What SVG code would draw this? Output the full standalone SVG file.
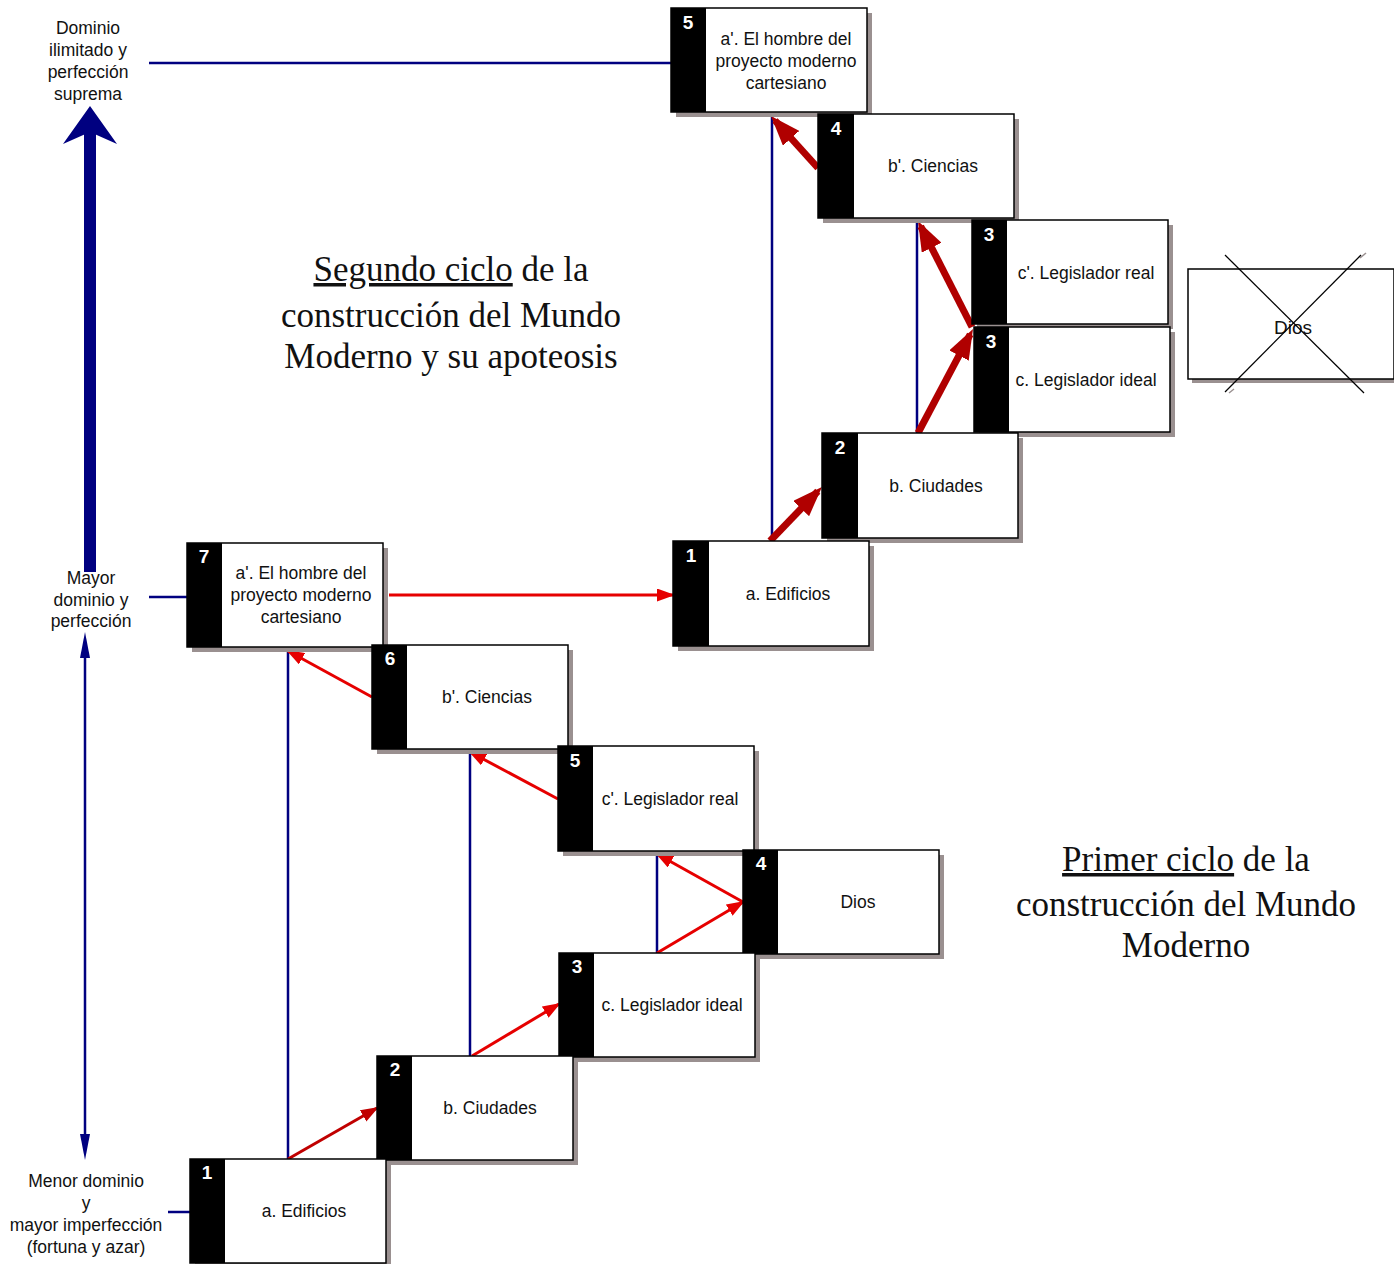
<svg xmlns="http://www.w3.org/2000/svg" width="1394" height="1264" viewBox="0 0 1394 1264">
<style>
.sh{fill:#9a9090}
.bx{fill:#fff;stroke:#000;stroke-width:1.5}
.st{fill:#000}
.num{font-family:"Liberation Sans",Arial,sans-serif;font-weight:bold;font-size:19px;fill:#fff;text-anchor:middle}
.lbl{font-family:"Liberation Sans",Arial,sans-serif;font-size:17.5px;fill:#111;text-anchor:middle}
.side{font-family:"Liberation Sans",Arial,sans-serif;font-size:17.5px;fill:#111;text-anchor:middle}
.ttl{font-family:"Liberation Serif","Times New Roman",serif;font-size:35px;fill:#111;text-anchor:middle}
.blue{stroke:#000080;stroke-width:2.5;fill:none}
.dred{stroke:#b00000;stroke-width:7;fill:none;marker-end:url(#hd)}
.lred{stroke:#e60000;stroke-width:3;fill:none;marker-end:url(#hl)}
</style>
<defs>
<marker id="hd" markerUnits="userSpaceOnUse" viewBox="0 0 30 22" markerWidth="30" markerHeight="22" refX="24" refY="11" orient="auto">
<path d="M0,0 L30,11 L0,22 z" fill="#b00000"/>
</marker>
<marker id="hl" markerUnits="userSpaceOnUse" viewBox="0 0 18 13" markerWidth="18" markerHeight="13" refX="16" refY="6.5" orient="auto">
<path d="M0,0 L18,6.5 L0,13 z" fill="#e60000"/>
</marker>
<marker id="hm" markerUnits="userSpaceOnUse" viewBox="0 0 18 13" markerWidth="18" markerHeight="13" refX="16" refY="6.5" orient="auto">
<path d="M0,0 L18,6.5 L0,13 z" fill="#c00000"/>
</marker>
</defs>

<!-- connectors -->
<g id="connectors">
<line class="blue" x1="149" y1="63" x2="671" y2="63"/>
<line class="blue" x1="772" y1="112" x2="772" y2="541"/>
<line class="blue" x1="917" y1="218" x2="917" y2="433"/>
<line class="blue" x1="149" y1="597" x2="187" y2="597"/>
<line class="blue" x1="288" y1="647" x2="288" y2="1159"/>
<line class="blue" x1="470" y1="749" x2="470" y2="1056"/>
<line class="blue" x1="657" y1="851" x2="657" y2="953"/>
<line class="blue" x1="168" y1="1212" x2="190" y2="1212"/>
<!-- big up arrow -->
<rect x="84" y="132" width="12" height="440" fill="#000080"/>
<polygon points="90,106 117,144 90,132 63,144" fill="#000080"/>
<!-- thin double arrow -->
<line x1="85" y1="650" x2="85" y2="1142" stroke="#000080" stroke-width="2.5"/>
<polygon points="85,632 80,658 90,658" fill="#000080"/>
<polygon points="85,1160 80,1134 90,1134" fill="#000080"/>
<!-- upper red block arrows -->
<line class="dred" x1="770" y1="541" x2="817.8" y2="491.3"/>
<line class="dred" x1="918" y1="433" x2="970.2" y2="334.3"/>
<line class="dred" x1="972" y1="327" x2="920.7" y2="226.3"/>
<line class="dred" x1="818" y1="168" x2="775" y2="120.5"/>
<!-- lower red arrows -->
<line class="lred" x1="389" y1="595" x2="673" y2="595"/>
<line class="lred" x1="372" y1="697" x2="288" y2="651"/>
<line class="lred" x1="558" y1="799" x2="470" y2="752"/>
<line class="lred" x1="743" y1="902" x2="657" y2="854"/>
<line class="lred" x1="657" y1="953" x2="743" y2="902"/>
<line class="lred" x1="472" y1="1056" x2="559" y2="1004"/>
<line stroke="#c00000" stroke-width="3" marker-end="url(#hm)" x1="288" y1="1159" x2="377" y2="1108"/>
</g>

<!-- upper cycle nodes -->
<g id="u5">
<rect class="sh" x="676" y="13" width="196" height="104"/>
<rect class="bx" x="671" y="8" width="196" height="104"/>
<rect class="st" x="671" y="8" width="35" height="104"/>
<text class="num" x="688" y="29">5</text>
<text class="lbl" x="786" y="45">a'. El hombre del</text>
<text class="lbl" x="786" y="67">proyecto moderno</text>
<text class="lbl" x="786" y="89">cartesiano</text>
</g>
<g id="u4">
<rect class="sh" x="823" y="119" width="196" height="104"/>
<rect class="bx" x="818" y="114" width="196" height="104"/>
<rect class="st" x="818" y="114" width="36" height="104"/>
<text class="num" x="836" y="135">4</text>
<text class="lbl" x="933" y="172">b'. Ciencias</text>
</g>
<g id="u3r">
<rect class="sh" x="977" y="225" width="196" height="104"/>
<rect class="bx" x="972" y="220" width="196" height="104"/>
<rect class="st" x="972" y="220" width="35" height="104"/>
<text class="num" x="989" y="241">3</text>
<text class="lbl" x="1086" y="279">c'. Legislador real</text>
</g>
<g id="u3i">
<rect class="sh" x="979" y="332" width="196" height="105"/>
<rect class="bx" x="974" y="327" width="196" height="105"/>
<rect class="st" x="974" y="327" width="35" height="105"/>
<text class="num" x="991" y="348">3</text>
<text class="lbl" x="1086" y="386">c. Legislador ideal</text>
</g>
<g id="u2">
<rect class="sh" x="827" y="438" width="196" height="105"/>
<rect class="bx" x="822" y="433" width="196" height="105"/>
<rect class="st" x="822" y="433" width="36" height="105"/>
<text class="num" x="840" y="454">2</text>
<text class="lbl" x="936" y="492">b. Ciudades</text>
</g>
<g id="u1">
<rect class="sh" x="678" y="546" width="196" height="105"/>
<rect class="bx" x="673" y="541" width="196" height="105"/>
<rect class="st" x="673" y="541" width="36" height="105"/>
<text class="num" x="691" y="562">1</text>
<text class="lbl" x="788" y="600">a. Edificios</text>
</g>
<g id="dios-x">
<rect class="sh" x="1192" y="273" width="206" height="110"/>
<rect class="bx" x="1188" y="269" width="206" height="110"/>
<line x1="1229" y1="393" x2="1234" y2="389" stroke="#9a9090" stroke-width="1.5"/>
<line x1="1360" y1="258" x2="1366" y2="253" stroke="#9a9090" stroke-width="1.5"/>
<text class="lbl" x="1293" y="334" style="font-size:19px">Dios</text>
<line x1="1225" y1="255" x2="1364" y2="393" stroke="#000" stroke-width="1.2"/>
<line x1="1361" y1="255" x2="1225" y2="392" stroke="#000" stroke-width="1.2"/>
</g>

<!-- lower cycle nodes -->
<g id="l7">
<rect class="sh" x="192" y="548" width="196" height="104"/>
<rect class="bx" x="187" y="543" width="196" height="104"/>
<rect class="st" x="187" y="543" width="35" height="104"/>
<text class="num" x="204" y="563">7</text>
<text class="lbl" x="301" y="579">a'. El hombre del</text>
<text class="lbl" x="301" y="601">proyecto moderno</text>
<text class="lbl" x="301" y="623">cartesiano</text>
</g>
<g id="l6">
<rect class="sh" x="377" y="650" width="196" height="104"/>
<rect class="bx" x="372" y="645" width="196" height="104"/>
<rect class="st" x="372" y="645" width="35" height="104"/>
<text class="num" x="390" y="665">6</text>
<text class="lbl" x="487" y="703">b'. Ciencias</text>
</g>
<g id="l5">
<rect class="sh" x="563" y="751" width="196" height="105"/>
<rect class="bx" x="558" y="746" width="196" height="105"/>
<rect class="st" x="558" y="746" width="35" height="105"/>
<text class="num" x="575" y="767">5</text>
<text class="lbl" x="670" y="805">c'. Legislador real</text>
</g>
<g id="l4">
<rect class="sh" x="748" y="855" width="196" height="104"/>
<rect class="bx" x="743" y="850" width="196" height="104"/>
<rect class="st" x="743" y="850" width="35" height="104"/>
<text class="num" x="761" y="870">4</text>
<text class="lbl" x="858" y="908">Dios</text>
</g>
<g id="l3">
<rect class="sh" x="564" y="958" width="196" height="104"/>
<rect class="bx" x="559" y="953" width="196" height="104"/>
<rect class="st" x="559" y="953" width="35" height="104"/>
<text class="num" x="577" y="973">3</text>
<text class="lbl" x="672" y="1011">c. Legislador ideal</text>
</g>
<g id="l2">
<rect class="sh" x="382" y="1061" width="196" height="104"/>
<rect class="bx" x="377" y="1056" width="196" height="104"/>
<rect class="st" x="377" y="1056" width="35" height="104"/>
<text class="num" x="395" y="1076">2</text>
<text class="lbl" x="490" y="1114">b. Ciudades</text>
</g>
<g id="l1">
<rect class="sh" x="195" y="1164" width="196" height="104"/>
<rect class="bx" x="190" y="1159" width="196" height="104"/>
<rect class="st" x="190" y="1159" width="35" height="104"/>
<text class="num" x="207" y="1179">1</text>
<text class="lbl" x="304" y="1217">a. Edificios</text>
</g>

<!-- side labels -->
<g id="side-top">
<text class="side" x="88" y="34">Dominio</text>
<text class="side" x="88" y="56">ilimitado y</text>
<text class="side" x="88" y="78">perfección</text>
<text class="side" x="88" y="100">suprema</text>
</g>
<g id="side-mid">
<text class="side" x="91" y="584">Mayor</text>
<text class="side" x="91" y="606">dominio y</text>
<text class="side" x="91" y="627">perfección</text>
</g>
<g id="side-bottom">
<text class="side" x="86" y="1187">Menor dominio</text>
<text class="side" x="86" y="1209">y</text>
<text class="side" x="86" y="1231">mayor imperfección</text>
<text class="side" x="86" y="1253">(fortuna y azar)</text>
</g>

<!-- titles -->
<g id="title-second">
<text class="ttl" x="451" y="281"><tspan text-decoration="underline">Segundo ciclo</tspan> de la</text>
<text class="ttl" x="451" y="327">construcción del Mundo</text>
<text class="ttl" x="451" y="368">Moderno y su apoteosis</text>
</g>
<g id="title-first">
<text class="ttl" x="1186" y="871"><tspan text-decoration="underline">Primer ciclo</tspan> de la</text>
<text class="ttl" x="1186" y="916">construcción del Mundo</text>
<text class="ttl" x="1186" y="957">Moderno</text>
</g>
</svg>
